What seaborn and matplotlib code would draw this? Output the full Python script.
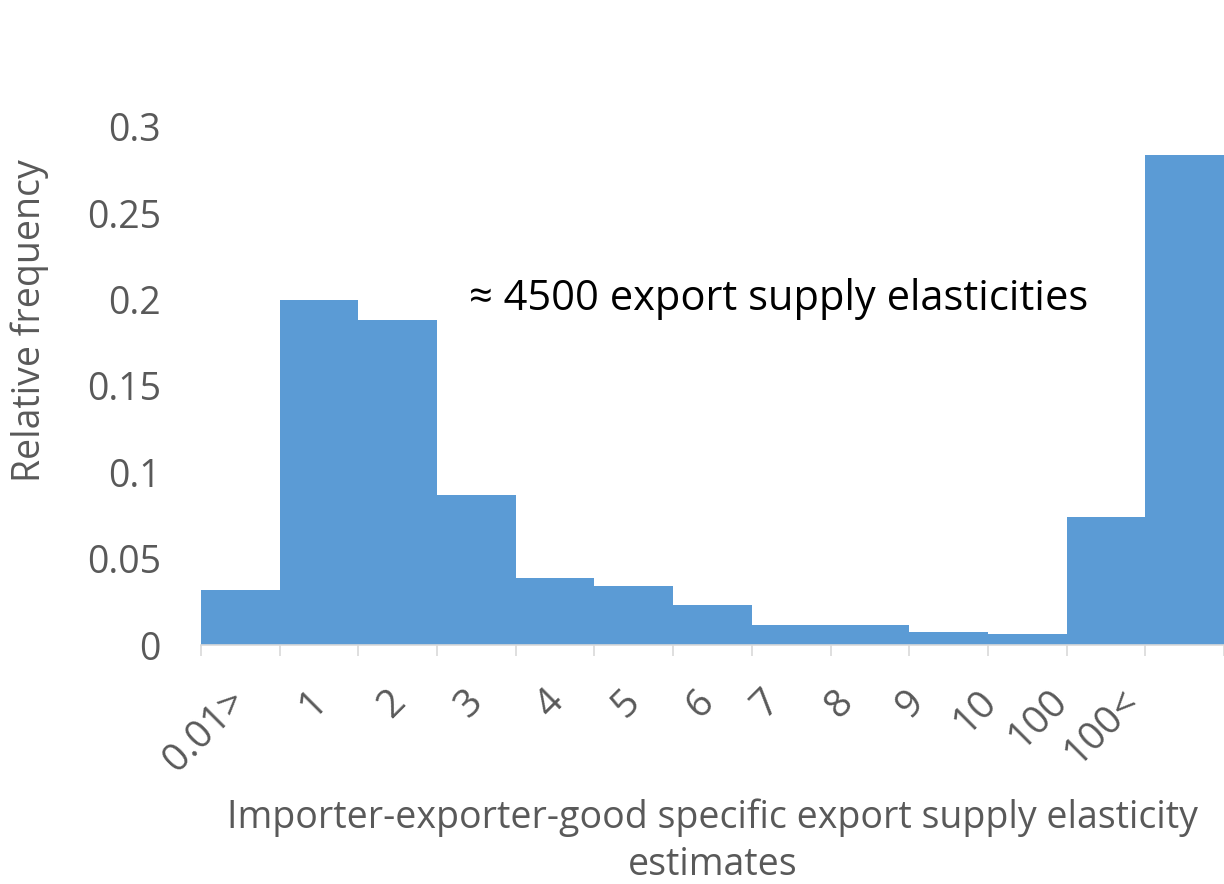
import seaborn as sns
import pandas as pd
import matplotlib.pyplot as plt
import matplotlib.transforms as mtransforms
import numpy as np

#-----------------------------------------------------------------------------------------------------------------------
"""Data read off the picture"""
bins = ['0.01>', '1', '2', '3', '4', '5', '6', '7', '8', '9', '10', '100', '100<']
freq = [0.032, 0.200, 0.188, 0.087, 0.039, 0.034, 0.023, 0.0116, 0.0116, 0.0075, 0.0064, 0.074, 0.284]

df = pd.DataFrame({'bin': bins, 'freq': freq})

#-----------------------------------------------------------------------------------------------------------------------
"""Creating the Figure"""
sns.set_style('white')
plt.rcParams['font.family'] = ['Open Sans', 'DejaVu Sans']

fig = plt.figure(figsize=(12.24, 8.84), dpi=100)
ax = fig.add_axes([201/1224, 239/884, 1 - 201/1224, (645-127)/884])

grey = '#595959'
blue = '#5B9BD5'

#Plotting the bars (no gaps, like an Excel histogram)
sns.barplot(data=df, x='bin', y='freq', color=blue, width=1.0, saturation=1, linewidth=0, ax=ax)

#-----------------------------------------------------------------------------------------------------------------------
"""Making the graph look nice"""
ax.set_xlim(-0.5, len(bins) - 0.5)
ax.set_ylim(0, 0.3)
ax.set_yticks([0, 0.05, 0.1, 0.15, 0.2, 0.25, 0.3])
ax.set_yticklabels(['0', '0.05', '0.1', '0.15', '0.2', '0.25', '0.3'])

ax.set_xticks(np.arange(len(bins)))
ax.set_xticklabels(bins, rotation=45, ha='center', va='top')
ax.set_xticks(np.arange(-0.5, len(bins), 1), minor=True)

ax.tick_params(axis='x', which='major', length=0, pad=27, labelsize=28, labelcolor=grey)
ax.tick_params(axis='x', which='minor', length=8, width=1.2, color='#D9D9D9', direction='out', bottom=True)
ax.tick_params(axis='y', length=0, pad=29, labelsize=27, labelcolor=grey)

#Excel squeezes the rotated labels leftwards, nudge each one (pixels)
nudge = [-35, -6, -6, -7, -5, -8, -12, -25, -30, -38, -52, -68, -83]
for lab, dx in zip(ax.get_xticklabels(), nudge):
    lab.set_transform(lab.get_transform() + mtransforms.ScaledTranslation(dx / 100, 0, fig.dpi_scale_trans))

for s in ['top', 'right', 'left']:
    ax.spines[s].set_visible(False)
ax.spines['bottom'].set_color('#D9D9D9')
ax.spines['bottom'].set_linewidth(1.2)

ax.set_xlabel('Importer-exporter-good specific export supply elasticity\nestimates',
              fontsize=27, color=grey, linespacing=1.3)
ax.xaxis.set_label_coords(0.5, -0.297)
ax.set_ylabel('Relative frequency', fontsize=27, color=grey)
ax.yaxis.set_label_coords(-0.149, 0.627)

ax.text(0.565, 0.667, '\u2248 4500 export supply elasticities', transform=ax.transAxes,
        fontsize=30, color='black', ha='center', va='center')

#-----------------------------------------------------------------------------------------------------------------------
"""Saving the Graph"""
fig.savefig('out.png', dpi=100)
